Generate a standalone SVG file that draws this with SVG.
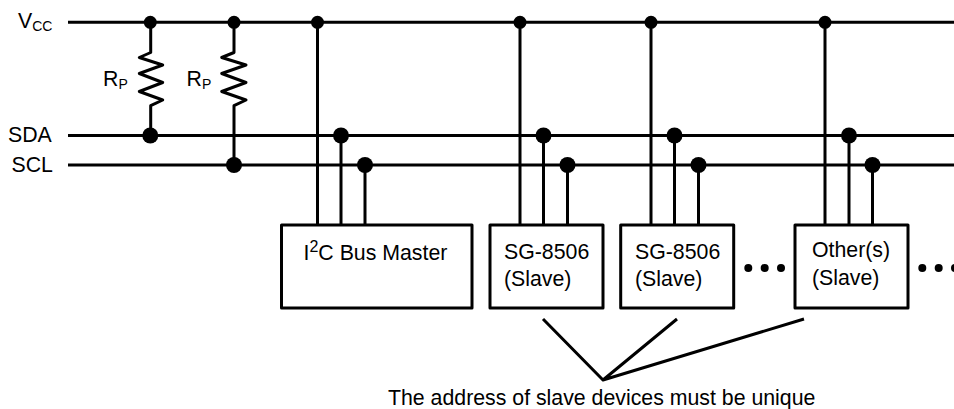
<svg xmlns="http://www.w3.org/2000/svg" width="954" height="409" viewBox="0 0 954 409">
<style>
text{font-family:"Liberation Sans",Arial,sans-serif;font-size:21.3px;fill:#000}
.sub{font-size:14px}
.w{fill:none;stroke:#000;stroke-width:3;stroke-linejoin:round}
.t{fill:none;stroke:#000;stroke-width:3}
.box{fill:#fff;stroke:#000;stroke-width:3;stroke-linejoin:round}
.big{fill:#000}
</style>
<rect width="954" height="409" fill="#fff"/>
<g id="connectors">
<path class="w" d="M68 22.3H954M68 135.5H954M68 165H954"/>
<path class="w" d="M150.700 22.300V52.500L139.300 57.500L162.700 65L139.300 73.500L162.700 82.500L139.300 91.500L162.700 100L150.700 105.700V135.500"/>
<path class="w" d="M234 22.300V52.500L221.700 57.500L246 65L221.700 73.500L246 82.500L221.700 91.500L246 100L234 105.700V165"/>
<path class="t" d="M317.500 22.300V225M341 135.500V225M365 165V225M520 22.300V225M543.500 135.500V225M567.500 165V225M651 22.300V225M674.500 135.500V225M698.500 165V225M825 22.300V225M849 135.500V225M872.500 165V225"/>
<path class="w" d="M543 319L603 380L677 319M603 380L804 319"/>
</g>
<g id="junctions">
<circle class="big" cx="150.300" cy="22.300" r="6.500"/><circle class="big" cx="234" cy="22.300" r="6.500"/><circle class="big" cx="317.500" cy="22.300" r="6.500"/><circle class="big" cx="520" cy="22.300" r="6.500"/><circle class="big" cx="651" cy="22.300" r="6.500"/><circle class="big" cx="825" cy="22.300" r="6.500"/>
<circle class="big" cx="150.300" cy="135.500" r="8"/><circle class="big" cx="341" cy="135.500" r="8"/><circle class="big" cx="543.500" cy="135.500" r="8"/><circle class="big" cx="674.500" cy="135.500" r="8"/><circle class="big" cx="849" cy="135.500" r="8"/>
<circle class="big" cx="234" cy="165" r="8"/><circle class="big" cx="365" cy="165" r="8"/><circle class="big" cx="567.500" cy="165" r="8"/><circle class="big" cx="698.500" cy="165" r="8"/><circle class="big" cx="872.500" cy="165" r="8"/>
</g>
<g id="labels">
<text x="18" y="28">V<tspan class="sub" dy="3">CC</tspan></text>
<text x="8" y="142">SDA</text>
<text x="11.500" y="172">SCL</text>
<text x="103" y="86">R<tspan class="sub" dy="3">P</tspan></text>
<text x="186.500" y="86">R<tspan class="sub" dy="3">P</tspan></text>
<text x="388" y="405">The address of slave devices must be unique</text>
</g>
<g id="master"><rect class="box" x="281.500" y="225" width="190.500" height="83"/><text x="303.500" y="260">I<tspan font-size="16" dy="-8">2</tspan><tspan dy="8">C Bus Master</tspan></text></g>
<g id="slave1"><rect class="box" x="490" y="225" width="113" height="83"/><text x="504" y="259">SG-8506</text><text x="504" y="286">(Slave)</text></g>
<g id="slave2"><rect class="box" x="620.700" y="225" width="113" height="83"/><text x="635" y="259">SG-8506</text><text x="635" y="286">(Slave)</text></g>
<g id="others"><rect class="box" x="795" y="225" width="113" height="83"/><text x="812" y="257">Other(s)</text><text x="812" y="284.500">(Slave)</text></g>
<g id="ellipsis1"><circle class="big" cx="748.300" cy="268" r="4"/><circle class="big" cx="764.700" cy="268" r="4"/><circle class="big" cx="781" cy="268" r="4"/></g>
<g id="ellipsis2"><circle class="big" cx="922.300" cy="268" r="4"/><circle class="big" cx="938.700" cy="268" r="4"/><circle class="big" cx="955" cy="268" r="4"/></g>
</svg>
